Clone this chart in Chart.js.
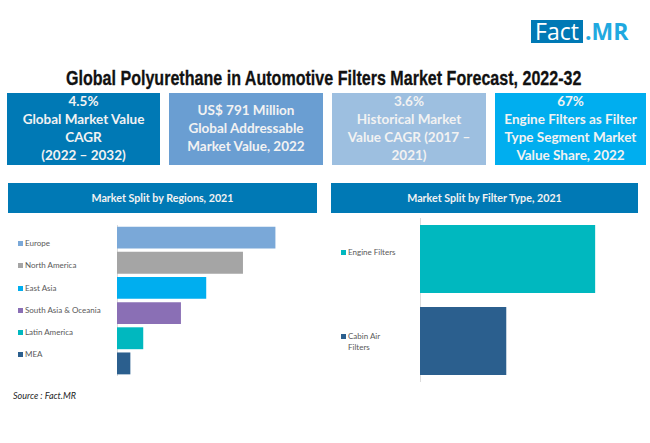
<!DOCTYPE html>
<html>
<head>
<meta charset="utf-8">
<title>Global Polyurethane in Automotive Filters Market Forecast, 2022-32</title>
<script src="https://cdn.jsdelivr.net/npm/chart.js@4"></script>
<style>
    html, body { margin: 0; padding: 0; background: #fff; }
    body { position: relative; width: 650px; height: 443px; overflow: hidden; font-family: Lato, "Open Sans", sans-serif; }
    .abs { position: absolute; }
    .logo-box { left: 531px; top: 20px; width: 52px; height: 23px; background: #0079b5; color: #fff; font-size: 23px; line-height: 23px; text-align: center; font-family: "Open Sans", sans-serif; }
    .logo-mr { left: 585px; top: 20px; color: #1fa9e0; font-size: 23px; line-height: 23px; font-weight: 700; font-family: "Open Sans", sans-serif; }
    .title { left: 66px; top: 66px; white-space: nowrap; }
    .title span { display: inline-block; transform-origin: 0 0; transform: scaleX(0.765); font-family: "Liberation Sans", sans-serif; font-weight: bold; font-size: 21px; line-height: 24px; color: #111; -webkit-text-stroke: 0.3px #111; }
    .tile { top: 93px; height: 72px; display: flex; align-items: center; justify-content: center; text-align: center; color: #f2f2f2; font-weight: 700; font-size: 13.5px; line-height: 17.8px; }
    .head { top: 183px; height: 30px; background: #0079b5; color: #f2f2f2; font-weight: 700; font-size: 10.7px; line-height: 30px; text-align: center; }
    .legend-item { font-size: 8px; line-height: 11px; color: #595959; }
    .legend-item i { position: absolute; left: -7px; top: 3px; width: 5px; height: 5px; }
    .source { left: 13px; top: 390px; font-size: 9px; line-height: 12px; font-style: italic; color: #262626; }
</style>
</head>
<body>
<div class="abs logo-box">Fact</div>
<div class="abs logo-mr">.MR</div>
<div class="abs title"><span>Global Polyurethane in Automotive Filters Market Forecast, 2022-32</span></div>

<div class="abs tile" style="left:7px;width:153px;background:#0079b5">4.5%<br>Global Market Value<br>CAGR<br>(2022 – 2032)</div>
<div class="abs tile" style="left:169px;width:154px;background:#6a9ed2">US$ 791 Million<br>Global Addressable<br>Market Value, 2022</div>
<div class="abs tile" style="left:332px;width:154px;background:#9dbfe0">3.6%<br>Historical Market<br>Value CAGR (2017 –<br>2021)</div>
<div class="abs tile" style="left:495px;width:151px;background:#00aeef">67%<br>Engine Filters as Filter<br>Type Segment Market<br>Value Share, 2022</div>

<div class="abs head" style="left:8px;width:309px">Market Split by Regions, 2021</div>
<div class="abs head" style="left:331px;width:307px">Market Split by Filter Type, 2021</div>

<div id="regionLegend"></div>
<div id="filterLegend"></div>

<canvas id="regionChart" class="abs" style="left:117px;top:225px"></canvas>
<canvas id="filterChart" class="abs" style="left:420px;top:218px"></canvas>

<div class="abs source">Source : Fact.MR</div>

<script>
const regions = ['Europe', 'North America', 'East Asia', 'South Asia & Oceania', 'Latin America', 'MEA'];
const regionShare = [33.2, 26.4, 18.7, 13.4, 5.5, 2.8];
const regionColors = ['#7aa8d8', '#a5a5a5', '#00aeef', '#8a6fb5', '#00b8bf', '#2b5f8e'];

const filterTypes = ['Engine Filters', 'Cabin Air Filters'];
const filterShare = [67, 33];
const filterColors = ['#00b8bf', '#2b5f8e'];

function barChart(id, width, height, labels, values, colors, maxValue, barPct) {
    const canvas = document.getElementById(id);
    canvas.width = width;
    canvas.height = height;
    return new Chart(canvas, {
        type: 'bar',
        data: {
            labels: labels,
            datasets: [{
                data: values,
                backgroundColor: colors,
                barPercentage: barPct,
                categoryPercentage: 1
            }]
        },
        options: {
            indexAxis: 'y',
            responsive: false,
            animation: false,
            layout: { padding: 0 },
            plugins: { legend: { display: false }, tooltip: { enabled: false } },
            scales: {
                x: { display: false, min: 0, max: maxValue },
                y: {
                    grid: { display: false, drawTicks: false },
                    border: { color: '#dcdcdc' },
                    ticks: { display: false }
                }
            }
        }
    });
}

function addLegend(id, left, tops, labels, colors, widths) {
    const box = document.getElementById(id);
    labels.forEach(function (label, i) {
        const item = document.createElement('div');
        item.className = 'abs legend-item';
        item.style.left = left + 'px';
        item.style.top = tops[i] + 'px';
        if (widths) item.style.width = widths[i] + 'px';
        item.innerHTML = '<i style="background:' + colors[i] + '"></i>' + label.replace('&', '&amp;');
        box.appendChild(item);
    });
}

barChart('regionChart', 167, 151, regions, regionShare, regionColors, 35, 0.87);
barChart('filterChart', 183, 164, filterTypes, filterShare, filterColors, 70, 0.83);

addLegend('regionLegend', 25, [238, 260, 283, 305, 327, 349], regions, regionColors);
addLegend('filterLegend', 348, [247, 331], filterTypes, filterColors, [56, 40]);
</script>
</body>
</html>
